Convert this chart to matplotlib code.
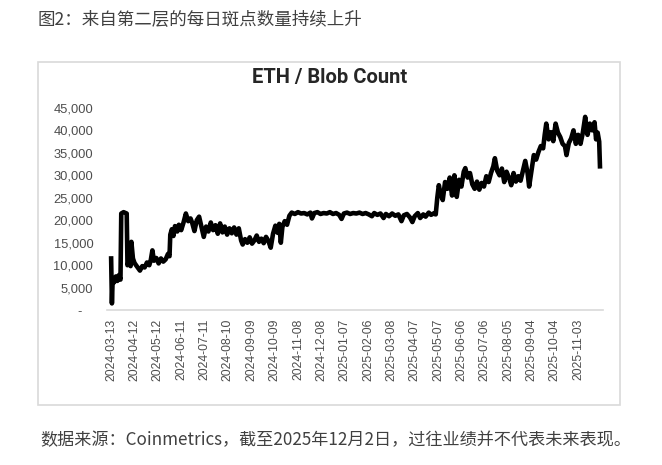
import numpy as np
import pandas as pd
import matplotlib
matplotlib.use("Agg")
import matplotlib.pyplot as plt
import matplotlib.dates as mdates
from matplotlib.ticker import FuncFormatter
from matplotlib.patches import Rectangle

# ETH blob count (day offset from 2024-03-13, count in thousands)
start = pd.Timestamp("2024-03-13")
days = [0, 1, 2, 4, 6, 8, 10, 12, 13, 16, 20, 21, 23, 25, 26, 28, 30, 32, 35, 37,
        40, 43, 46, 49, 51, 53, 55, 58, 61, 64, 67, 70, 73, 75, 76, 78, 80, 82, 85, 87,
        90, 93, 96, 99, 102, 104, 107, 110, 113, 116, 119, 122, 125, 128, 131, 134, 137, 140, 143, 146,
        149, 152, 155, 158, 161, 164, 167, 169, 172, 175, 178, 181, 184, 187, 190, 193, 196, 199, 202, 205,
        208, 211, 214, 216, 218, 220, 223, 226, 229, 232, 236, 240, 244, 248, 252, 256, 258, 261, 265, 269,
        273, 277, 281, 285, 289, 293, 296, 299, 303, 307, 311, 315, 319, 323, 327, 331, 335, 338, 342, 346,
        350, 353, 357, 361, 365, 369, 373, 376, 380, 384, 387, 390, 394, 397, 401, 404, 408, 411, 414, 417,
        419, 421, 423, 426, 429, 432, 435, 438, 441, 444, 447, 450, 453, 455, 458, 461, 464, 467, 470, 473,
        476, 479, 482, 485, 488, 491, 493, 496, 499, 502, 505, 508, 511, 514, 517, 520, 523, 526, 529, 532,
        535, 537, 540, 543, 546, 549, 552, 555, 557, 559, 562, 565, 568, 571, 574, 577, 580, 583, 585, 588,
        591, 594, 597, 600, 603, 606, 609, 612, 615, 618, 621, 623, 625, 627, 628]
blobs_k = [11.5, 1.5, 7.0, 6.2, 7.5, 6.5, 7.8, 6.8, 21.5, 21.8, 21.5, 10.0, 11.0, 9.8, 15.2, 11.5, 10.5, 10.0, 9.3, 8.8,
           9.8, 9.5, 10.6, 10.0, 11.2, 13.3, 11.0, 11.6, 10.4, 11.5, 10.8, 11.3, 12.5, 12.0, 16.8, 18.0, 16.5, 18.7, 17.5, 19.0,
           17.8, 19.5, 21.5, 19.8, 20.4, 19.5, 17.6, 20.0, 20.8, 18.5, 16.3, 18.6, 17.5, 19.5, 17.8, 18.9, 17.0, 19.3, 17.3, 18.6,
           16.8, 18.2, 17.1, 18.4, 16.8, 18.2, 15.5, 14.6, 15.8, 15.0, 16.2, 14.8, 15.5, 16.6, 15.2, 15.9, 14.9, 16.3, 15.4, 13.9,
           17.0, 18.8, 17.2, 19.2, 15.0, 18.5, 19.8, 19.0, 21.0, 21.7, 21.4, 21.8, 21.5, 21.6, 21.3, 21.7, 20.4, 21.6, 21.8, 21.4,
           21.6, 21.5, 21.8, 21.4, 21.6, 21.2, 20.3, 21.5, 21.7, 21.4, 21.6, 21.5, 21.7, 21.4, 21.6, 21.3, 20.9, 21.6, 21.2, 21.5,
           20.5, 21.4, 20.9, 21.5, 21.0, 21.3, 19.8, 21.1, 21.4, 20.6, 19.6, 20.9, 21.6, 20.5, 21.3, 20.8, 21.7, 21.2, 21.5, 21.3,
           25.0, 27.8, 26.0, 24.5, 28.5, 27.0, 29.5, 25.5, 30.0, 25.2, 29.0, 27.5, 30.8, 31.6, 29.5, 30.5, 28.0, 27.0, 28.6, 26.8,
           28.3, 27.5, 29.8, 28.5, 30.5, 32.0, 33.8, 31.0, 30.0, 31.5, 28.5, 30.8, 29.5, 27.8, 30.5, 28.6, 29.8, 28.8, 31.0, 33.2,
           30.5, 27.5, 31.0, 34.5, 33.5, 35.2, 36.5, 36.0, 39.0, 41.5, 38.0, 39.6, 37.6, 41.5, 39.5, 38.5, 37.0, 36.5, 34.5, 37.2,
           38.2, 40.0, 37.0, 39.0, 37.0, 39.5, 43.0, 39.0, 41.5, 40.0, 41.8, 38.0, 39.5, 37.5, 32.0]

dates = start + pd.to_timedelta(days, unit="D")
blobs = np.array(blobs_k) * 1000
tick_dates = pd.date_range("2024-03-13", periods=21, freq="30D")
yticks = [0, 5000, 10000, 15000, 20000, 25000, 30000, 35000, 40000, 45000]

header = "图2：来自第二层的每日斑点数量持续上升"
source = "数据来源：Coinmetrics，截至2025年12月2日，过往业绩并不代表未来表现。"

fig = plt.figure(figsize=(6.62, 4.65), dpi=100)
fig.patch.set_facecolor("white")

# card frame around the chart
fig.patches.append(Rectangle((38 / 662, 1 - 405 / 465), (620 - 38) / 662, (405 - 62) / 465,
                             transform=fig.transFigure, fill=False, edgecolor="#d9d9d9", lw=1.2))

ax = fig.add_axes([0.162, 0.333, 0.749, 0.435])
ax.plot(dates, blobs, color="black", lw=3.3, solid_joinstyle="round")

ax.set_xlim(start - pd.Timedelta(days=5), start + pd.Timedelta(days=632))
ax.set_ylim(0, 45000)
ax.set_yticks(yticks)
ax.yaxis.set_major_formatter(FuncFormatter(lambda v, p: "-   " if v == 0 else f"{int(v):,}"))
ax.set_xticks(tick_dates)
ax.xaxis.set_major_formatter(mdates.DateFormatter("%Y-%m-%d"))

for s in ["top", "right", "left"]:
    ax.spines[s].set_visible(False)
ax.spines["bottom"].set_color("#d9d9d9")
ax.spines["bottom"].set_linewidth(1.2)
ax.tick_params(axis="y", length=0, pad=10, labelsize=9.3, labelcolor="#4d4d4d")
ax.tick_params(axis="x", length=0, pad=6, labelsize=8.8, labelcolor="#4d4d4d", rotation=90)
for lab in ax.get_xticklabels() + ax.get_yticklabels():
    lab.set_fontfamily("Liberation Sans")

fig.text(330 / 662, 1 - 78 / 465, "ETH / Blob Count", ha="center", va="center",
         fontsize=14.5, fontweight="bold", family="Roboto", color="#262626")
fig.text(38 / 662, 1 - 20 / 465, header, ha="left", va="center", fontsize=12.6,
         family=["Noto Sans CJK SC", "DejaVu Sans"], color="#404040")
fig.text(40 / 662, 1 - 440 / 465, source, ha="left", va="center", fontsize=12.3,
         family=["Noto Sans CJK SC", "DejaVu Sans"], color="#404040")

fig.savefig("out.png", dpi=100)
